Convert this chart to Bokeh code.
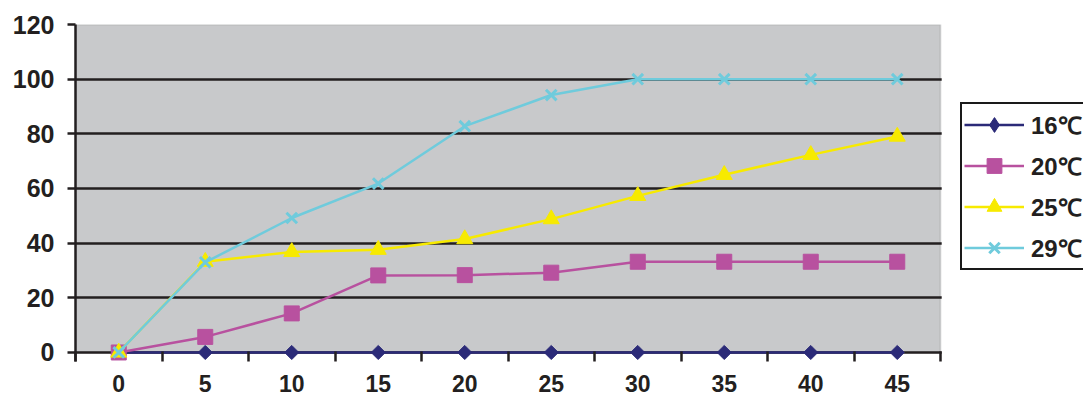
import math
from bokeh.plotting import figure
from bokeh.models import (Range1d, FixedTicker, BoxAnnotation, Legend, LegendItem)
from bokeh.embed import file_html
from bokeh.resources import INLINE

# time points (x categories)
minutes = [0, 5, 10, 15, 20, 25, 30, 35, 40, 45]

# one series per temperature
t16 = [0, 0, 0, 0, 0, 0, 0, 0, 0, 0]
t20 = [0, 5.7, 14.3, 28.2, 28.3, 29.2, 33.2, 33.2, 33.2, 33.2]
t25 = [0, 33.2, 36.8, 37.6, 41.5, 48.8, 57.3, 65.0, 72.3, 79.0]
t29 = [0, 33.0, 49.2, 61.8, 82.8, 94.2, 100, 100, 100, 100]

series_names = ["16℃", "20℃", "25℃", "29℃"]
y_ticks = [0, 20, 40, 60, 80, 100, 120]

FONT = "Liberation Sans"
TEXT = "#231f20"
PANEL = "#c8c9cb"

X0, X1 = -2.5, 47.5           # category band edges of the plotting panel
PX_PER_X = 865 / (X1 - X0)    # keep the panel 865 px wide
X_END = X0 + (1083 - 75) / PX_PER_X   # frame runs on to the right edge (legend area)

p = figure(width=1083, height=401, output_backend="svg", toolbar_location=None,
           x_range=Range1d(X0, X_END), y_range=Range1d(-3.3, 120),
           min_border_left=75, min_border_right=0, min_border_top=24,
           min_border_bottom=40)
p.background_fill_color = "white"
p.border_fill_color = "white"
p.outline_line_color = None

# grey plotting panel from 0 up to 120
p.add_layout(BoxAnnotation(left=X0, right=X1, bottom=0, top=120,
                           fill_color=PANEL, fill_alpha=1,
                           line_color="#8e8e90", line_width=2, level="image"))

# horizontal grid (the 0 line doubles as the x-axis line)
p.xgrid.visible = False
p.ygrid.ticker = FixedTicker(ticks=[0, 20, 40, 60, 80, 100])
p.ygrid.grid_line_color = TEXT
p.ygrid.grid_line_width = 2.7

# blank the grid to the right of the panel, where the legend sits
p.add_layout(BoxAnnotation(left=X1 + 0.07, fill_color="white", fill_alpha=1,
                           line_color=None, level="underlay"))

# x axis: labels at category centres, tick marks between categories
xa = p.xaxis[0]
xa.ticker = FixedTicker(ticks=minutes, minor_ticks=[m - 2.5 for m in minutes] + [X1])
xa.axis_line_color = None
xa.major_tick_in = 0
xa.major_tick_out = 0
xa.minor_tick_in = 10
xa.minor_tick_out = 0
xa.minor_tick_line_color = TEXT
xa.minor_tick_line_width = 2.5
xa.major_label_standoff = 13
xa.major_label_text_font = FONT
xa.major_label_text_font_style = "bold"
xa.major_label_text_font_size = "23px"
xa.major_label_text_color = TEXT

ya = p.yaxis[0]
ya.ticker = FixedTicker(ticks=y_ticks)
ya.axis_line_color = TEXT
ya.axis_line_width = 2.5
ya.major_tick_in = 0
ya.major_tick_out = 8
ya.major_tick_line_color = TEXT
ya.major_tick_line_width = 2.5
ya.minor_tick_line_color = None
ya.major_label_standoff = 13
ya.major_label_text_font = FONT
ya.major_label_text_font_style = "bold"
ya.major_label_text_font_size = "25px"
ya.major_label_text_color = TEXT

styles = [
    (t16, "#2b2a78", "square", 10, math.pi / 4),
    (t20, "#b8519f", "square", 15, 0),
    (t25, "#f7ea00", "triangle", 16, 0),
    (t29, "#6fcbdc", "x", 15, 0),
]

items = []
for name, (vals, color, marker, size, angle) in zip(series_names, styles):
    ln = p.line(minutes, vals, line_color=color, line_width=2.5)
    key = None
    if angle:
        # legend swatches are drawn unrotated, so this series gets a small
        # diamond glyph (hidden under the rotated squares) to act as its key
        key = p.scatter(minutes, vals, marker="diamond", size=4,
                        fill_color=color, line_color=color, line_width=1)
    if marker == "x":
        sc = p.scatter(minutes, vals, marker=marker, size=size, angle=angle,
                       line_color=color, line_width=3)
    else:
        sc = p.scatter(minutes, vals, marker=marker, size=size, angle=angle,
                       fill_color=color, line_color=color, line_width=1)
    items.append(LegendItem(label=name, renderers=[ln, key if key is not None else sc]))

legend = Legend(items=items, location=(885, 91))
legend.border_line_color = "#1a1a1a"
legend.border_line_alpha = 1
legend.border_line_width = 2
legend.background_fill_color = "white"
legend.background_fill_alpha = 1
legend.label_text_font = FONT
legend.label_text_font_style = "bold"
legend.label_text_font_size = "24px"
legend.label_text_color = TEXT
legend.glyph_width = 60
legend.glyph_height = 37
legend.label_standoff = 7
legend.spacing = 4
legend.padding = 2
legend.margin = 0
p.add_layout(legend, "center")

open("out.html", "w").write(file_html(p, INLINE))
